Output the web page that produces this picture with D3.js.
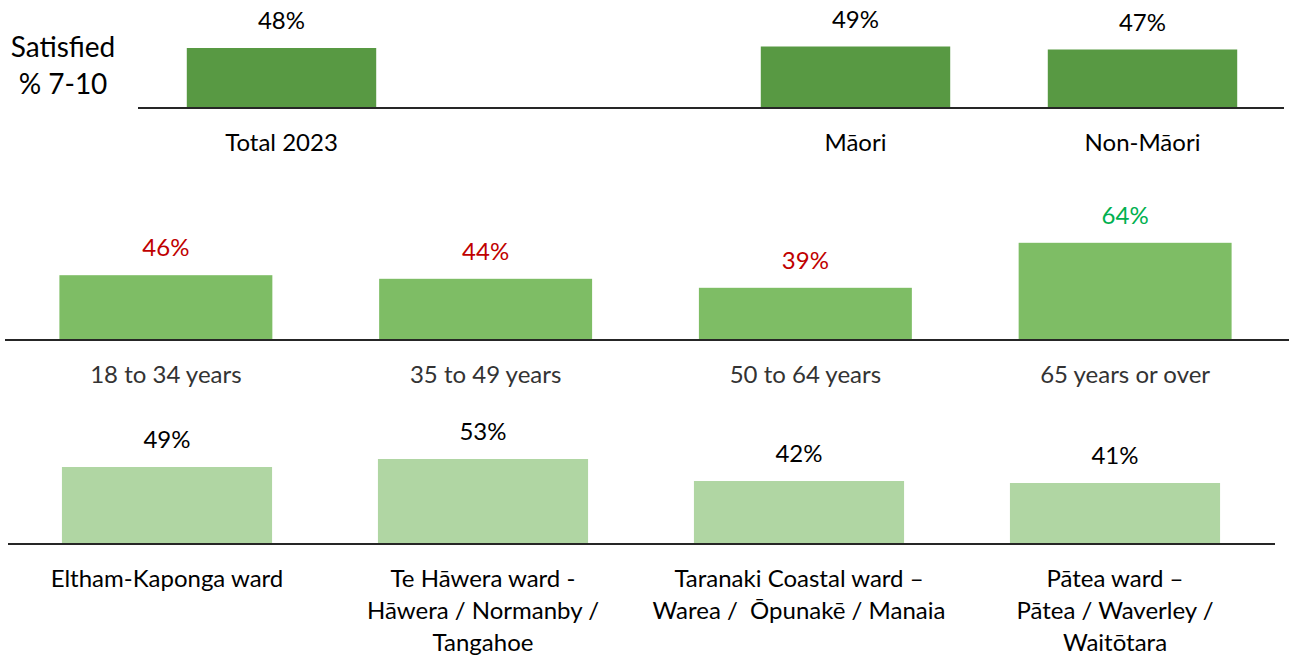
<!DOCTYPE html>
<html>
<head>
<meta charset="utf-8">
<script src="https://cdn.jsdelivr.net/npm/d3@7"></script>
<style>
  body { margin: 0; background: #fff; }
  svg text { font-family: Lato, "Open Sans", sans-serif; }
</style>
</head>
<body>
<div id="chart"></div>
<script>
// Data

// Top row: overall + ethnicity (second slot is left empty in the original)
let groupCats = ["Total 2023", "(blank)", "Māori", "Non-Māori"];
let groupValues = [48, null, 49, 47];

// Middle row: age groups
let ageCats = ["18 to 34 years", "35 to 49 years", "50 to 64 years", "65 years or over"];
let ageValues = [46, 44, 39, 64];
// significance vs total: -1 lower, 1 higher, 0 none
let ageSig = [-1, -1, -1, 1];

// Bottom row: wards (lines split by \n)
let wardCats = [
    "Eltham-Kaponga ward",
    "Te Hāwera ward -\nHāwera / Normanby /\nTangahoe",
    "Taranaki Coastal ward –\nWarea /  Ōpunakē / Manaia",
    "Pātea ward –\nPātea / Waverley /\nWaitōtara"
];
let wardValues = [49, 53, 42, 41];

// Layout
let width = 1289;
let height = 657;
let fontSize = 24;

let sigColor = { "-1": "#C00000", "0": "#000000", "1": "#00B050" };

let svg = d3.select("#chart")
    .append("svg")
    .attr("width", width)
    .attr("height", height);

// y-axis style label
svg.append("text")
    .attr("x", 63)
    .attr("text-anchor", "middle")
    .attr("font-size", 28)
    .attr("fill", "#000")
    .selectAll("tspan")
    .data(["Satisfied", "% 7-10"])
    .join("tspan")
    .attr("x", 63)
    .attr("y", (d, i) => 57 + i * 37)
    .text(d => d);

// draw one row of bars
function drawPanel(opts) {
    let x = d3.scaleBand()
        .domain(opts.cats)
        .range([opts.x0, opts.x1])
        .paddingInner(opts.pad)
        .paddingOuter(opts.pad / 2);

    let y = d3.scaleLinear()
        .domain(opts.domain)
        .range([opts.base, opts.base - opts.pxPerUnit * (opts.domain[1] - opts.domain[0])]);

    let g = svg.append("g");

    let rows = opts.cats.map((c, i) => ({ cat: c, value: opts.values[i], sig: opts.sig ? opts.sig[i] : 0 }))
        .filter(d => d.value != null);

    g.selectAll("rect")
        .data(rows)
        .join("rect")
        .attr("x", d => x(d.cat))
        .attr("width", x.bandwidth())
        .attr("y", d => y(d.value))
        .attr("height", d => opts.base - y(d.value))
        .attr("fill", opts.color);

    // baseline
    let axis = d3.axisBottom(x).tickSize(0).tickFormat("");
    let ag = g.append("g")
        .attr("transform", `translate(0,${opts.base})`)
        .call(axis);
    ag.select(".domain")
        .attr("d", `M${opts.lineX0},0H${opts.lineX1}`)
        .attr("stroke", "#262626")
        .attr("stroke-width", 2);

    // value labels
    g.selectAll(".val")
        .data(rows)
        .join("text")
        .attr("class", "val")
        .attr("x", d => x(d.cat) + x.bandwidth() / 2)
        .attr("y", d => y(d.value) - 19)
        .attr("text-anchor", "middle")
        .attr("font-size", fontSize)
        .attr("fill", d => sigColor[d.sig])
        .text(d => d.value + "%");

    // category labels
    g.selectAll(".cat")
        .data(rows)
        .join("text")
        .attr("class", "cat")
        .attr("text-anchor", "middle")
        .attr("font-size", fontSize)
        .attr("fill", opts.catColor)
        .attr("xml:space", "preserve")
        .style("white-space", "pre")
        .each(function(d) {
            let cx = x(d.cat) + x.bandwidth() / 2;
            d3.select(this).selectAll("tspan")
                .data(d.cat.split("\n"))
                .join("tspan")
                .attr("x", cx)
                .attr("y", (t, i) => opts.base + opts.labelDy + i * 32)
                .text(t => t);
        });
}

drawPanel({
    cats: groupCats, values: groupValues,
    x0: 138, x1: 1286, pad: 0.34,
    base: 108, domain: [8, 60], pxPerUnit: 1.5,
    color: "#589943", catColor: "#000",
    lineX0: 138, lineX1: 1284, labelDy: 43
});

drawPanel({
    cats: ageCats, values: ageValues, sig: ageSig,
    x0: 6, x1: 1285, pad: 0.334,
    base: 340, domain: [10, 70], pxPerUnit: 1.8,
    color: "#7EBD65", catColor: "#333",
    lineX0: 5, lineX1: 1289, labelDy: 43
});

drawPanel({
    cats: wardCats, values: wardValues,
    x0: 9, x1: 1273, pad: 0.335,
    base: 544, domain: [10.5, 60], pxPerUnit: 2,
    color: "#B0D6A3", catColor: "#000",
    lineX0: 8, lineX1: 1275, labelDy: 43
});
</script>
</body>
</html>
